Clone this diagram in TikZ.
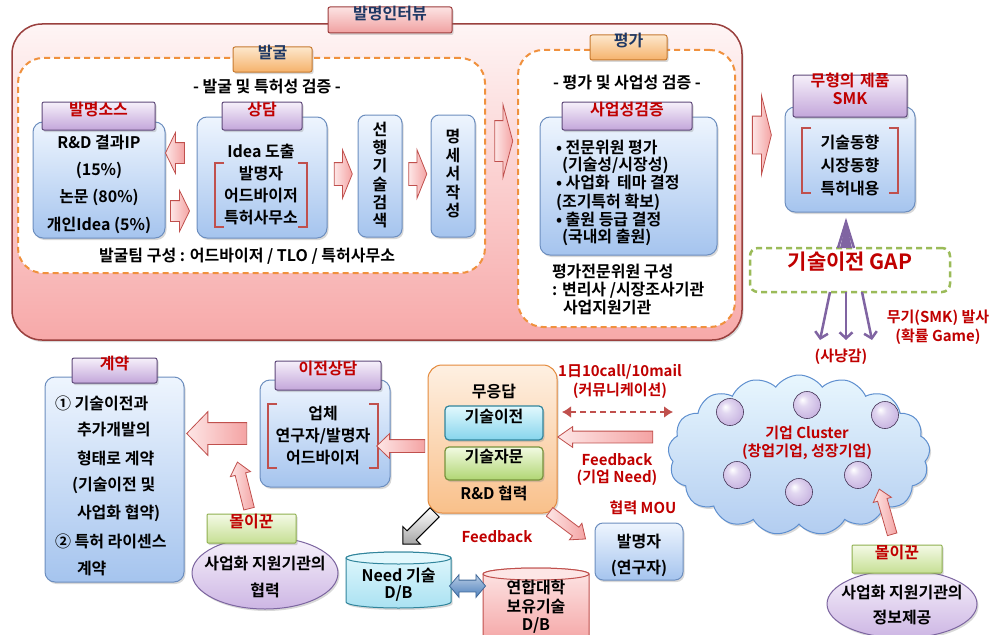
\documentclass[tikz,border=0pt]{standalone}
\usepackage{fontspec}
\setmainfont{Noto Sans CJK KR}[BoldFont={Noto Sans CJK KR Bold}]
\usetikzlibrary{shapes.geometric,shapes.arrows,shapes.symbols,shadows,fit,arrows.meta,calc}
\newcommand\myfs[2]{\fontsize{#1}{#2}\selectfont}
\definecolor{navy}{HTML}{1F3864}
\definecolor{dred}{HTML}{C00000}
\definecolor{brd}{HTML}{C0504D}
\definecolor{bluebd}{HTML}{6C8EBF}
\definecolor{purbd}{HTML}{5F497A}
\definecolor{orgbd}{HTML}{F0913E}
\definecolor{grnbd}{HTML}{9BBB59}
\definecolor{purar}{HTML}{8064A2}
\definecolor{bluetop}{HTML}{EEF5FE}
\definecolor{bluebot}{HTML}{A5C4EE}
\definecolor{purtop}{HTML}{F6F0FA}
\definecolor{purbot}{HTML}{C3A6DA}
\definecolor{pinktop}{HTML}{FDE6E6}
\definecolor{pinkbot}{HTML}{F4A3A3}
\definecolor{HTML-F7A9A9}{HTML}{F7A9A9}
\definecolor{HTML-C77A30}{HTML}{C77A30}
\definecolor{HTML-FDE7CC}{HTML}{FDE7CC}
\definecolor{HTML-F5B26B}{HTML}{F5B26B}
\definecolor{HTML-9C3C3C}{HTML}{9C3C3C}
\definecolor{HTML-FCE3E3}{HTML}{FCE3E3}
\definecolor{HTML-F0A0A0}{HTML}{F0A0A0}
\definecolor{HTML-8EAF4E}{HTML}{8EAF4E}
\definecolor{HTML-F4FAE6}{HTML}{F4FAE6}
\definecolor{HTML-C6DF94}{HTML}{C6DF94}
\definecolor{HTML-E48A3C}{HTML}{E48A3C}
\definecolor{HTML-FEF0E2}{HTML}{FEF0E2}
\definecolor{HTML-F9C08A}{HTML}{F9C08A}
\definecolor{HTML-31859C}{HTML}{31859C}
\definecolor{HTML-E2F8FD}{HTML}{E2F8FD}
\definecolor{HTML-86D5EC}{HTML}{86D5EC}
\definecolor{HTML-77933C}{HTML}{77933C}
\definecolor{HTML-F2FAE2}{HTML}{F2FAE2}
\definecolor{HTML-B0D673}{HTML}{B0D673}
\definecolor{HTML-7C65A0}{HTML}{7C65A0}
\definecolor{HTML-F7F2FB}{HTML}{F7F2FB}
\definecolor{HTML-CDB6E4}{HTML}{CDB6E4}
\definecolor{ballcol}{HTML}{E2D8F1}
\definecolor{ballmid}{HTML}{C7B3E0}
\definecolor{ballout}{HTML}{9079B6}
\definecolor{cloudbd}{HTML}{5E8FCF}
\definecolor{dbblue}{HTML}{4F81BD}
\pgfdeclareradialshading{sphereshade}{\pgfpoint{-9bp}{10bp}}{color(0bp)=(white); color(10bp)=(ballcol); color(30bp)=(ballmid); color(50bp)=(ballout)}
\begin{document}
\begin{tikzpicture}[x=1pt,y=-1pt,
  every node/.style={inner sep=0pt, outer sep=0pt, font=\bfseries\myfs{16}{18}},
  shad/.style={drop shadow={opacity=0.3, shadow xshift=1.5pt, shadow yshift=-2pt}},
  bigbox/.style={draw=brd!80!black, line width=1.5pt, rounded corners=30pt, top color=white!60!pinktop, bottom color=HTML-F7A9A9, shad},
  dashbox/.style={draw=orgbd, dash pattern=on 6pt off 4pt, line width=2pt, fill=white, rounded corners=25pt},
  bluebox/.style={draw=bluebd, line width=1pt, rounded corners=10pt, top color=bluetop, bottom color=bluebot, shad},
  purtab/.style={draw=purbd, line width=1pt, rounded corners=2pt, top color=purtop, bottom color=purbot, text=dred, shad},
  orgtab/.style={draw=HTML-C77A30, line width=1pt, rounded corners=2pt, top color=HTML-FDE7CC, bottom color=HTML-F5B26B, text=navy, shad},
  pinktab/.style={draw=HTML-9C3C3C, line width=1pt, rounded corners=2pt, top color=HTML-FCE3E3, bottom color=HTML-F0A0A0, text=navy, shad},
  greentab/.style={draw=HTML-8EAF4E, line width=1pt, rounded corners=1pt, top color=HTML-F4FAE6, bottom color=HTML-C6DF94, text=dred, shad},
  orgbox/.style={draw=HTML-E48A3C, line width=1pt, rounded corners=14pt, top color=HTML-FEF0E2, bottom color=HTML-F9C08A, shad},
  cyanbox/.style={draw=HTML-31859C, line width=1.2pt, rounded corners=4pt, top color=HTML-E2F8FD, bottom color=HTML-86D5EC, shad},
  greenbox/.style={draw=HTML-77933C, line width=1.2pt, rounded corners=4pt, top color=HTML-F2FAE2, bottom color=HTML-B0D673, shad},
  purell/.style={ellipse, draw=HTML-7C65A0, line width=1pt, top color=HTML-F7F2FB, bottom color=HTML-CDB6E4, shad},
  bracket/.style={draw=brd, line width=2.5pt},
  barrow/.style n args={4}{single arrow, inner xsep=0pt, minimum height=#1, inner ysep=#2, single arrow head extend=#3, single arrow tip angle=#4},
  pinkarrow/.style={draw=brd, line width=0.8pt, left color=pinktop, right color=pinkbot},
  purline/.style={draw=purar, line width=2.5pt},
  purarrow/.style={draw=purar, line width=2.5pt, -{Straight Barb[length=6pt,width=13pt]}},
  redtxt/.style={text=dred, font=\bfseries\myfs{15}{18}},
  sphere/.style={circle, minimum size=27pt, shading=sphereshade, draw=purbd!70!black, line width=0.6pt},
]
\useasboundingbox (0,0) rectangle (1003,634);
\fill[white] (0,0) rectangle (1003,634);

% ===== 발명인터뷰 =====
\node[bigbox, fit={(12,24)(742,340)}] (interview) {};
\node[pinktab, fit={(328,7)(452,33)}] (interviewtab) {발명인터뷰};

% ===== 발굴 =====
\node[dashbox, fit={(18,58)(485,273)}] (dig) {};
\node[orgtab, fit={(233,47)(312,72)}] (digtab) {발굴};
\node (digsub) at (267,87) {- 발굴 및 특허성 검증 -};

\node[bluebox, fit={(33,122)(165,238)}] (src) {};
\node[purtab, fit={(42,102)(155,130)}] (srctab) {발명소스};
\node[align=center, font=\bfseries\myfs{16}{27.3}] (srctxt) at (99,184) {R\&D 결과IP\\(15\%)\\논문 (80\%)\\개인Idea (5\%)};

\node[bluebox, fit={(197,117)(327,238)}] (consult) {};
\node[purtab, fit={(222,102)(302,130)}] (consulttab) {상담};
\node (idea) at (261,151) {Idea 도출};
\node[align=center, font=\bfseries\myfs{16}{22}] (consulttxt) at (261,196) {발명자\\어드바이저\\특허사무소};
\draw[bracket] (224,163) -- (215,163) -- (215,227) -- (224,227);
\draw[bracket] (298,163) -- (307,163) -- (307,227) -- (298,227);

\node[bluebox, rounded corners=8pt, fit={(358,115)(402,237)}] (prior) {};
\node[align=center, font=\bfseries\myfs{16}{18.2}] (priortxt) at (380,175) {선\\행\\기\\술\\검\\색};
\node[bluebox, rounded corners=8pt, fit={(431,115)(475,237)}] (spec) {};
\node[align=center, font=\bfseries\myfs{16}{18.5}] (spectxt) at (453,174) {명\\세\\서\\작\\성};

\node (team) at (247,256) {발굴팀 구성 : 어드바이저 / TLO / 특허사무소};

\node[pinkarrow, barrow={19pt}{10pt}{10pt}{128}, rotate=180] (a1) at (177.5,153) {};
\node[pinkarrow, barrow={19pt}{10pt}{10pt}{128}] (a2) at (177.5,211) {};
\node[pinkarrow, barrow={18pt}{11pt}{13pt}{136}] (a3) at (341,174) {};
\node[pinkarrow, barrow={18pt}{11pt}{13pt}{136}] (a4) at (415.5,174) {};

% ===== 평가 =====
\node[dashbox, fit={(518,50)(735,327)}] (eval) {};
\node[orgtab, fit={(590,35)(667,60)}] (evaltab) {평가};
\node (evalsub) at (627,82) {- 평가 및 사업성 검증 -};
\node[bluebox, fit={(540,117)(717,255)}] (biz) {};
\node[purtab, fit={(562,102)(692,130)}] (biztab) {사업성검증};
\node[anchor=west] (b1) at (556,147) {• 전문위원 평가};
\node[anchor=west] (b2) at (562,165) {(기술성/시장성)};
\node[anchor=west] (b3) at (556,183) {• 사업화 \ 테마 결정};
\node[anchor=west] (b4) at (556,202) {(조기특허 확보)};
\node[anchor=west] (b5) at (556,220) {• 출원 등급 결정};
\node[anchor=west] (b6) at (562,237) {(국내외 출원)};
\node[anchor=west] (e1) at (552,271) {평가전문위원 구성};
\node[anchor=west] (e2) at (552,290) {: 변리사 /시장조사기관};
\node[anchor=west] (e3) at (563,308) {사업지원기관};

\node[pinkarrow, barrow={18pt}{20pt}{16pt}{150}] (a5) at (501,141) {};
\node[pinkarrow, barrow={19pt}{18.5pt}{21pt}{152}] (a6) at (759.5,135) {};

% ===== SMK =====
\node[bluebox, fit={(785,107)(915,212)}] (smk) {};
\node[purtab, fit={(793,75)(907,117)}, align=center, font=\bfseries\myfs{16}{18}] (smktab) {무형의 제품\\SMK};
\node[align=center, font=\bfseries\myfs{16}{23}] (smktxt) at (850,165) {기술동향\\시장동향\\특허내용};
\draw[bracket] (811,128) -- (802,128) -- (802,193) -- (811,193);
\draw[bracket] (889,128) -- (898,128) -- (898,193) -- (889,193);

% ===== GAP =====
\node[draw=grnbd, dash pattern=on 6pt off 4pt, line width=2.5pt, rounded corners=8pt, fill=white, fit={(750,248)(950,292)}, text=dred, font=\bfseries\myfs{21}{24}] (gap) {기술이전 GAP};
\coordinate (smktip) at ($(smk.south)+(-4,10)$);
\fill[purar] ($(gap.north)+(-10,0)$) -- (smktip) -- ($(gap.north)+(2,0)$) -- cycle;
\draw[purline] ($(gap.north)+(-12,0)$) -- (smktip) -- ($(gap.north)+(4,0)$);
\coordinate (t1) at (820,340);
\coordinate (t2) at (846,340);
\coordinate (t3) at (872,340);
\draw[purarrow] ($(gap.south)+(-20,0)$) -- (t1);
\draw[purarrow] ($(gap.south)+(-4,0)$) -- (t2);
\draw[purarrow] ($(gap.south)+(12,0)$) -- (t3);
\node[redtxt] (weapon1) at (938,318) {무기(SMK) 발사};
\node[redtxt] (weapon2) at (938,337) {(확률 Game)};
\node[redtxt] (prey) at (841,357) {(사냥감)};

% ===== Cloud =====
\node[cloud, cloud puffs=17, cloud puff arc=110, cloud ignores aspect, minimum width=262pt, minimum height=160pt, draw=cloudbd, line width=1pt, top color=HTML-E2F8FD!50!bluetop, bottom color=bluebot!85!white, shad] (cloud) at (799,455) {};
\foreach \i/\x/\y in {1/730/412, 2/807/405, 3/885/415, 4/737/475, 5/799/492, 6/858/475}
  \node[sphere] (ball\i) at (\x,\y) {};
\node[redtxt] (cl1) at (807,433) {기업 Cluster};
\node[redtxt] (cl2) at (807,452) {(창업기업, 성장기업)};

% ===== 무응답 =====
\node[orgbox, fit={(428,365)(557,513)}] (resp) {};
\node (resptxt) at (494,392) {무응답};
\node[cyanbox, fit={(445,406)(543,440)}] (tt) {기술이전};
\node[greenbox, fit={(445,447)(543,480)}] (tc) {기술자문};
\node (rd) at (494,493) {R\&D 협력};

\coordinate (d1) at (562,412);
\coordinate (d2) at (673,412);
\draw[draw=brd, line width=2.5pt, dash pattern=on 6pt off 4pt, {Latex[length=9pt,width=12pt]}-{Latex[length=9pt,width=12pt]}] (d1) -- (d2);
\node[redtxt] (call1) at (620,372) {1日10call/10mail};
\node[redtxt] (call2) at (620,391) {(커뮤니케이션)};
\node[pinkarrow, barrow={95pt}{5.5pt}{4.5pt}{70}, rotate=180] (a10) at (609.5,437) {};
\node[redtxt] (fb1) at (617,460) {Feedback};
\node[redtxt] (fb2) at (617,478) {(기업 Need)};

% ===== 발명자 =====
\node[bluebox, rounded corners=8pt, fit={(595,523)(683,580)}] (inv) {};
\node (inv1) at (639,542) {발명자};
\node (inv2) at (639,568) {(연구자)};
\node[redtxt] (mou) at (643,508) {협력 MOU};
\node[pinkarrow, barrow={45pt}{5pt}{5pt}{80}, rotate=-37] (a11) at (565,523.5) {};
\node[redtxt] (fb3) at (497,537) {Feedback};

% ===== 이전상담 =====
\node[bluebox, fit={(260,380)(390,487)}] (trans) {};
\node[purtab, fit={(275,361)(381,390)}] (transtab) {이전상담};
\node[align=center, font=\bfseries\myfs{16}{22}] (transtxt) at (323,436) {업체\\연구자/발명자\\어드바이저};
\draw[bracket] (277,404) -- (268,404) -- (268,468) -- (277,468);
\draw[bracket] (369,404) -- (378,404) -- (378,468) -- (369,468);
\node[pinkarrow, barrow={48pt}{6pt}{6pt}{88}, rotate=180] (a7) at (404,446) {};

% ===== 계약 =====
\node[bluebox, fit={(45,377)(184,582)}] (contract) {};
\node[purtab, fit={(72,358)(157,383)}] (contracttab) {계약};
\node[anchor=west] (c1) at (55,403) {① 기술이전과};
\node[anchor=west] (c2) at (77,430) {추가개발의};
\node[anchor=west] (c3) at (77,458) {형태로 계약};
\node[anchor=west] (c4) at (72,485) {(기술이전 및};
\node[anchor=west] (c5) at (77,513) {사업화 협약)};
\node[anchor=west] (c6) at (55,541) {② 특허 라이센스};
\node[anchor=west] (c7) at (77,568) {계약};
\node[pinkarrow, barrow={60pt}{10.5pt}{11pt}{92}, rotate=180] (a8) at (222,433.5) {};

% ===== 몰이꾼 (left) =====
\node[purell, minimum width=146pt, minimum height=72pt] (helperL) at (265,573) {};
\node[greentab, fit={(207,514)(296,543)}] (helperLtab) {몰이꾼};
\node[align=center, font=\bfseries\myfs{16}{27}] (helperLtxt) at (265,577) {사업화 지원기관의\\협력};
\node[pinkarrow, barrow={48pt}{5pt}{5pt}{80}, rotate=104] (a9) at (244,488.5) {};

% ===== DBs =====
\path[draw=HTML-31859C, line width=1pt, top color=HTML-E2F8FD, bottom color=HTML-86D5EC!70!white, shad]
  (346,558) -- (346,602) arc[start angle=180,end angle=360,x radius=52.5pt,y radius=6pt] -- (451,558)
  arc[start angle=0,end angle=180,x radius=52.5pt,y radius=6pt] -- cycle;
\draw[draw=HTML-31859C, line width=1pt, fill=HTML-E2F8FD] (398.5,558) ellipse[x radius=52.5pt, y radius=6pt];
\node[fit={(346,552)(451,608)}] (needdb) {};
\node[align=center, font=\bfseries\myfs{16}{17}] (needtxt) at (398.5,585) {Need 기술\\D/B};

\path[draw=brd, line width=1pt, top color=pinktop, bottom color=pinkbot]
  (483,574) -- (483,640) arc[start angle=180,end angle=360,x radius=53pt,y radius=6pt] -- (589,574)
  arc[start angle=0,end angle=180,x radius=53pt,y radius=6pt] -- cycle;
\draw[draw=brd, line width=1pt, fill=pinktop] (536,574) ellipse[x radius=53pt, y radius=6pt];
\node[fit={(483,568)(589,640)}] (unidb) {};
\node[align=center, font=\bfseries\myfs{16}{18.5}] (unitxt) at (536,607) {연합대학\\보유기술\\D/B};

\node[double arrow, inner xsep=0pt, inner ysep=5.5pt, minimum height=36pt, double arrow head extend=5.5pt, double arrow tip angle=100, draw=dbblue!80!black, line width=0.8pt, top color=dbblue!40!white, bottom color=dbblue] (dbarrow) at (467.5,586) {};

\node[barrow={45pt}{6pt}{6pt}{90}, draw=black, line width=1pt, top color=white, bottom color=black!35, rotate=225] (gray) at (421,526) {};

% ===== 몰이꾼 (right) =====
\node[purell, minimum width=150pt, minimum height=68pt] (helperR) at (902,604) {};
\node[greentab, fit={(852,545)(942,573)}] (helperRtab) {몰이꾼};
\node[align=center, font=\bfseries\myfs{16}{25}] (helperRtxt) at (902,604.5) {사업화 지원기관의\\정보제공};
\node[pinkarrow, barrow={47pt}{4.5pt}{4.5pt}{80}, rotate=106] (a12) at (886.5,514.5) {};

\end{tikzpicture}
\end{document}
